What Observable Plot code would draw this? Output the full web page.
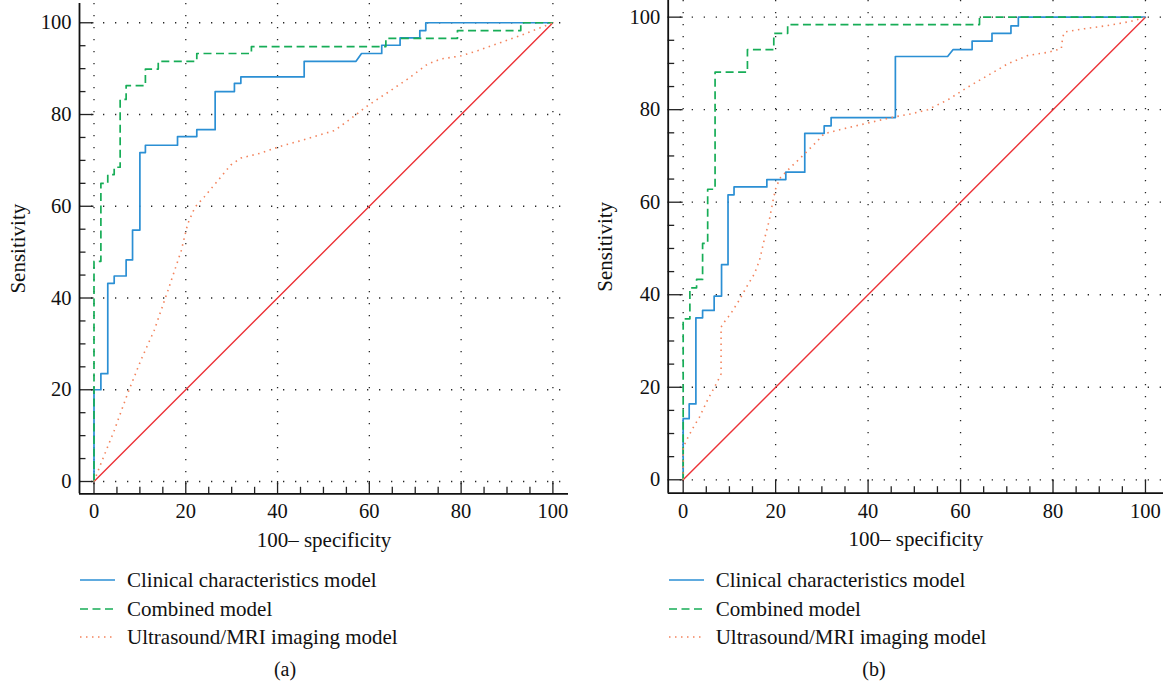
<!DOCTYPE html>
<html>
<head>
<meta charset="utf-8">
<script src="https://cdn.jsdelivr.net/npm/d3@7"></script>
<script src="https://cdn.jsdelivr.net/npm/@observablehq/plot@0.6"></script>
<style>
  html, body { margin: 0; padding: 0; background: #fff; }
  body { width: 1163px; height: 686px; position: relative; overflow: hidden; font-family: "Liberation Serif", "DejaVu Serif", serif; color: #111; }
  .panel { position: absolute; top: 0; }
  .panel svg { display: block; }
  .legend { margin-top: 6px; font-size: 21px; }
  .legend .row { height: 28.5px; line-height: 28.5px; display: flex; align-items: center; }
  .legend .row svg { display: inline-block; margin-right: 12px; }
  .caption { position: absolute; font-size: 20px; transform: translateX(-50%); }
</style>
</head>
<body>
<div id="pa" class="panel" style="left:0px;width:580px"></div>
<div id="pb" class="panel" style="left:590px;width:573px"></div>
<script>
// ---------- shared ticks ----------
const majorTicks = [0, 20, 40, 60, 80, 100];
const minorTicks = [5, 10, 15, 25, 30, 35, 45, 50, 55, 65, 70, 75, 85, 90, 95];
const diagonalX = [0, 100];
const diagonalY = [0, 100];
const seriesNames = ["Clinical characteristics model", "Combined model", "Ultrasound/MRI imaging model"];
const xLabel = "100\u2013 specificity";
const yLabel = "Sensitivity";
const captions = ["(a)", "(b)"];

// ---------- panel (a) ----------
const aClinicalX = [0, 0, 1.5, 1.5, 3, 3, 4.4, 4.4, 7, 7, 8.4, 8.4, 10, 10, 11.2, 11.2, 18.2, 18.2, 22.4, 22.4, 26.4, 26.4, 30.6, 30.6, 32, 32, 45.8, 45.8, 57.1, 58.3, 62.7, 62.7, 66.7, 66.7, 71, 71, 72.3, 72.3, 100];
const aClinicalY = [0, 20, 20, 23.5, 23.5, 43.2, 43.2, 44.8, 44.8, 48.3, 48.3, 54.8, 54.8, 71.7, 71.7, 73.3, 73.3, 75.2, 75.2, 76.7, 76.7, 85, 85, 86.8, 86.8, 88.2, 88.2, 91.6, 91.6, 93.3, 93.3, 95.1, 95.1, 96.7, 96.7, 98.3, 98.3, 100, 100];
const aCombinedX = [0, 0, 1.5, 1.5, 3, 3, 4.4, 4.4, 5.7, 5.7, 7, 7, 11.2, 11.2, 14, 14, 22.4, 22.4, 34.3, 34.3, 63.6, 63.6, 79.2, 79.2, 93, 93, 100];
const aCombinedY = [0, 48, 48, 65, 65, 66.9, 66.9, 68.5, 68.5, 83.3, 83.3, 86.3, 86.3, 89.9, 89.9, 91.6, 91.6, 93.3, 93.3, 94.8, 94.8, 96.6, 96.6, 98.3, 98.3, 100, 100];
const aImagingX = [0, 1.5, 4.4, 7.3, 10.2, 13.1, 16.1, 19, 20.4, 22, 24, 27, 29.8, 32, 36.4, 40.7, 44, 48.7, 52.4, 55.3, 59.6, 64, 68.3, 72.7, 75.6, 80, 83.6, 88.7, 93.7, 100];
const aImagingY = [0, 3.9, 11.1, 19.1, 26.4, 32.9, 41.6, 50.3, 56.1, 59.8, 62, 65.6, 69, 70.5, 71.6, 73.1, 74, 75.4, 76.5, 78.6, 81.9, 84.8, 87.7, 91, 92.1, 92.8, 93.9, 95.7, 97.5, 100];

// ---------- panel (b) ----------
const bClinicalX = [0, 0, 1.3, 1.3, 2.75, 2.75, 4.2, 4.2, 6.7, 6.7, 8.3, 8.3, 9.7, 9.7, 11, 11, 18.1, 18.1, 22.2, 22.2, 26.3, 26.3, 30.5, 30.5, 32, 32, 45.9, 45.9, 57.2, 58.4, 62.5, 62.5, 66.8, 66.8, 70.9, 70.9, 72.5, 72.5, 100];
const bClinicalY = [0, 13.2, 13.2, 16.4, 16.4, 35, 35, 36.6, 36.6, 39.7, 39.7, 46.5, 46.5, 61.6, 61.6, 63.3, 63.3, 64.9, 64.9, 66.5, 66.5, 74.9, 74.9, 76.5, 76.5, 78.3, 78.3, 91.5, 91.5, 93, 93, 94.8, 94.8, 96.5, 96.5, 98.1, 98.1, 100, 100];
const bCombinedX = [0, 0, 1.45, 1.45, 2.9, 2.9, 4.2, 4.2, 5.3, 5.3, 6.9, 6.9, 13.9, 13.9, 19.6, 19.6, 22.6, 22.6, 64.1, 64.1, 100];
const bCombinedY = [0, 34.8, 34.8, 41.5, 41.5, 43.3, 43.3, 51.1, 51.1, 62.8, 62.8, 88.1, 88.1, 93, 93, 96.5, 96.5, 98.4, 98.4, 100, 100];
const bImagingX = [0, 0, 0.7, 2, 3.5, 5.3, 6.6, 7.4, 8.2, 8.2, 8.9, 10.3, 12.1, 13.9, 15.4, 16.5, 17.5, 18.6, 19.4, 20.1, 21.1, 23.3, 25.5, 28.4, 30.5, 34.8, 39.9, 45, 49.3, 52.9, 57.2, 61.6, 65.9, 70.2, 74.5, 78.9, 81.8, 82.1, 82.5, 86.8, 91.9, 96.9, 100];
const bImagingY = [0, 7, 8.5, 11, 13.5, 17.3, 19.7, 21.2, 22.9, 33, 34.1, 35.9, 38.8, 42, 44.5, 47.4, 51.7, 56, 60.2, 63.3, 65.4, 67.6, 69.7, 72.6, 74.8, 75.9, 77.1, 78.3, 79.1, 80, 82.1, 84.9, 87.4, 89.9, 91.7, 92.4, 93.2, 95.7, 96.8, 97.5, 98.2, 99.1, 100];

// ---------- styles ----------
const styles = [
  {stroke: "#2b8fd4", strokeWidth: 1.7, dash: null},
  {stroke: "#17ad57", strokeWidth: 1.7, dash: "8,4.5"},
  {stroke: "#f3835c", strokeWidth: 1.6, dash: "1.5,4.5"}
];
const diagStyle = {stroke: "#ec3237", strokeWidth: 1.4};
const font = '"Liberation Serif", "DejaVu Serif", serif';

function rows(xs, ys) { return xs.map((x, i) => ({x, y: ys[i]})); }

function panel(cfg) {
  const {el, width, height, marginLeft, marginRight, marginTop, marginBottom, xDomain, yDomain, series, yLabelDx, caption, captionX} = cfg;
  const plotW = width - marginLeft - marginRight;
  const plotH = height - marginTop - marginBottom;
  const kx = plotW / (xDomain[1] - xDomain[0]);
  const ky = plotH / (yDomain[1] - yDomain[0]);
  const yMajorLen = (0 - xDomain[0]) * kx;   // tick reaches x = 0
  const xMajorLen = (0 - yDomain[0]) * ky;   // tick reaches y = 0
  const minorLen = 6.5;
  const grid = {stroke: "#000", strokeWidth: 1.3, strokeDasharray: "1.3,10.7", strokeOpacity: 0.85};
  const marks = [
    Plot.ruleY(majorTicks, {...grid}),
    Plot.ruleX(majorTicks, {...grid}),
    Plot.ruleY(majorTicks, {stroke: "#222", strokeWidth: 1.3, insetRight: plotW - yMajorLen}),
    Plot.ruleY(minorTicks, {stroke: "#222", strokeWidth: 1.3, insetRight: plotW - minorLen}),
    Plot.ruleX(majorTicks, {stroke: "#222", strokeWidth: 1.3, insetTop: plotH - xMajorLen}),
    Plot.ruleX(minorTicks, {stroke: "#222", strokeWidth: 1.3, insetTop: plotH - minorLen}),
    Plot.ruleX([xDomain[0]], {stroke: "#111", strokeWidth: 1.8}),
    Plot.ruleY([yDomain[0]], {stroke: "#111", strokeWidth: 1.8}),
    Plot.line(rows(diagonalX, diagonalY), {x: "x", y: "y", stroke: diagStyle.stroke, strokeWidth: diagStyle.strokeWidth}),
    ...series.map((s, i) => Plot.line(rows(s.x, s.y), {
      x: "x", y: "y", curve: "linear",
      stroke: styles[i].stroke, strokeWidth: styles[i].strokeWidth,
      strokeDasharray: styles[i].dash, strokeLinecap: "butt"
    })),
    Plot.axisX(majorTicks, {tickSize: 0, tickPadding: 10, fontSize: 20.5, fontFamily: font, fill: "#111", label: null}),
    Plot.axisY(majorTicks, {tickSize: 0, tickPadding: 8, fontSize: 20.5, fontFamily: font, fill: "#111", label: null}),
    Plot.text([xLabel], {frameAnchor: "bottom", dy: 46, text: d => d, fontSize: 21, fontFamily: font, fill: "#111", lineAnchor: "middle"}),
    Plot.text([yLabel], {frameAnchor: "left", dx: yLabelDx, rotate: -90, text: d => d, fontSize: 21, fontFamily: font, fill: "#111", lineAnchor: "middle", textAnchor: "middle"})
  ];
  const chart = Plot.plot({
    width, height, marginLeft, marginRight, marginTop, marginBottom,
    x: {domain: xDomain, axis: null},
    y: {domain: yDomain, axis: null},
    style: {background: "transparent", fontFamily: font, overflow: "visible"},
    marks
  });
  const host = document.getElementById(el);
  host.appendChild(chart);
  // legend
  const legend = document.createElement("div");
  legend.className = "legend";
  legend.style.marginLeft = (marginLeft + 1) + "px";
  seriesNames.forEach((name, i) => {
    const row = document.createElement("div");
    row.className = "row";
    const ns = "http://www.w3.org/2000/svg";
    const sw = document.createElementNS(ns, "svg");
    sw.setAttribute("width", 35); sw.setAttribute("height", 10);
    const ln = document.createElementNS(ns, "line");
    ln.setAttribute("x1", 0); ln.setAttribute("x2", 35); ln.setAttribute("y1", 5); ln.setAttribute("y2", 5);
    ln.setAttribute("stroke", styles[i].stroke); ln.setAttribute("stroke-width", styles[i].strokeWidth);
    if (styles[i].dash) ln.setAttribute("stroke-dasharray", styles[i].dash);
    sw.appendChild(ln);
    row.appendChild(sw);
    const t = document.createElement("span");
    t.textContent = name;
    row.appendChild(t);
    legend.appendChild(row);
  });
  host.appendChild(legend);
  const cap = document.createElement("div");
  cap.className = "caption";
  cap.textContent = caption;
  cap.style.left = captionX + "px";
  cap.style.top = "658px";
  host.appendChild(cap);
}

panel({
  el: "pa", width: 580, height: 560,
  marginLeft: 79, marginRight: 12, marginTop: 3, marginBottom: 66.7,
  xDomain: [-3.16, 103.4], yDomain: [-2.68, 104.2],
  series: [{x: aClinicalX, y: aClinicalY}, {x: aCombinedX, y: aCombinedY}, {x: aImagingX, y: aImagingY}],
  yLabelDx: -61, caption: captions[0], captionX: 285
});
panel({
  el: "pb", width: 573, height: 560,
  marginLeft: 77.7, marginRight: 0, marginTop: 0, marginBottom: 67.3,
  xDomain: [-3.24, 103.9], yDomain: [-2.9, 103.6],
  series: [{x: bClinicalX, y: bClinicalY}, {x: bCombinedX, y: bCombinedY}, {x: bImagingX, y: bImagingY}],
  yLabelDx: -63, caption: captions[1], captionX: 284
});
</script>
</body>
</html>
